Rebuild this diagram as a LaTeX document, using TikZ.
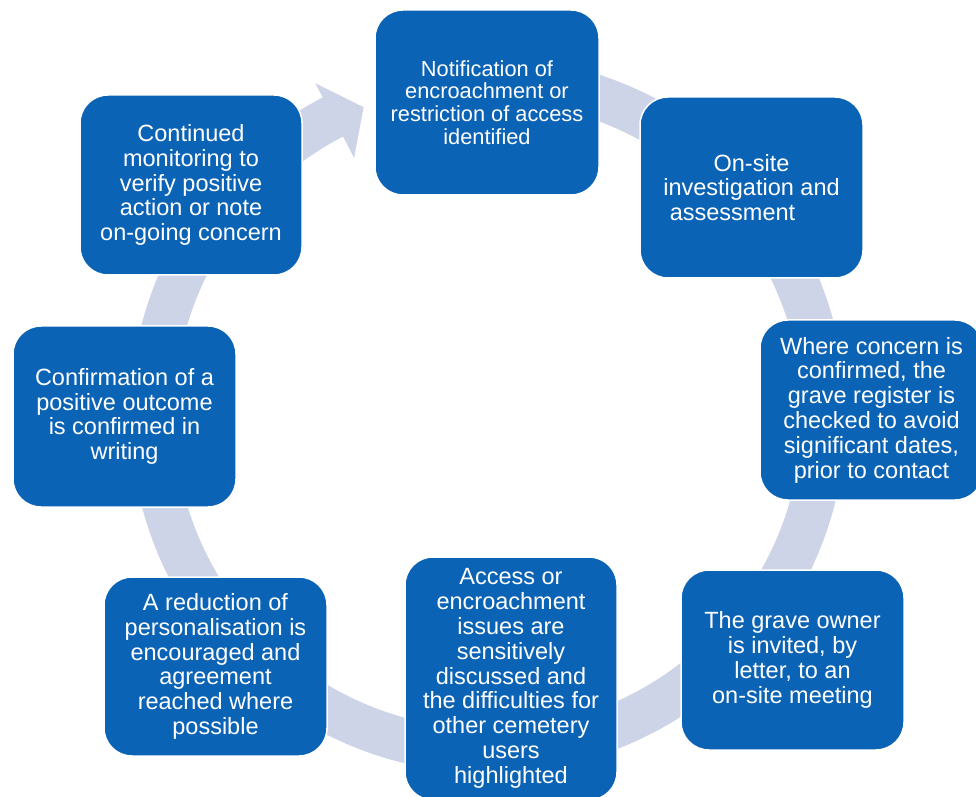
\documentclass[tikz,border=0pt]{standalone}
\usepackage{fontspec}
\setmainfont{Liberation Sans}
\definecolor{boxblue}{RGB}{11,99,182}
\definecolor{bandcol}{RGB}{205,212,232}
\begin{document}
\begin{tikzpicture}[x=1pt,y=1pt,
  stepbox/.style={draw=white, line width=1.5pt, fill=boxblue, rounded corners=28pt,
    text=white, align=center, inner sep=0pt, font=\fontsize{23.5}{24.8}\selectfont},
]
\useasboundingbox (0,0) rectangle (976,796);
\clip (0,0) rectangle (976,796);
\fill[white] (0,0) rectangle (976,796);
% circular arrow band
\begin{scope}[shift={(488,381)}]
\fill[bandcol] (100:358) arc[start angle=100,end angle=-242.5,radius=358]
  -- (-242.5:374) -- (-248:332) -- (-242.5:290) -- (-242.5:314)
  arc[start angle=-242.5,end angle=100,radius=314] -- cycle;
\end{scope}
% boxes
\node[stepbox, minimum width=224, minimum height=185, font=\fontsize{21.8}{22.7}\selectfont] (n1) at (487,693.5)
  {Notification of\\encroachment or\\restriction of access\\identified};
\node[stepbox, minimum width=223, minimum height=181] (n2) at (751.5,608.5)
  {On-site\\investigation and\\assessment\rule{38pt}{0pt}};
\node[stepbox, minimum width=223, minimum height=180] (n3) at (871.5,386)
  {Where concern is\\confirmed, the\\grave register is\\checked to avoid\\significant dates,\\prior to contact};
\node[stepbox, minimum width=223, minimum height=180] (n4) at (792.5,136)
  {The grave owner\\is invited, by\\letter, to an\\on-site meeting};
\node[stepbox, minimum width=212, minimum height=243] (n5) at (511,117.5)
  {Access or\\encroachment\\issues are\\sensitively\\discussed and\\the difficulties for\\other cemetery\\users\\highlighted};
\node[stepbox, minimum width=223, minimum height=179] (n6) at (215.5,129.5)
  {A reduction of\\personalisation is\\encouraged and\\agreement\\reached where\\possible};
\node[stepbox, minimum width=223, minimum height=181] (n7) at (124.5,379.5)
  {Confirmation of a\\positive outcome\\is confirmed in\\writing};
\node[stepbox, minimum width=222, minimum height=180] (n8) at (191,611)
  {Continued\\monitoring to\\verify positive\\action or note\\on-going concern};
\end{tikzpicture}
\end{document}
